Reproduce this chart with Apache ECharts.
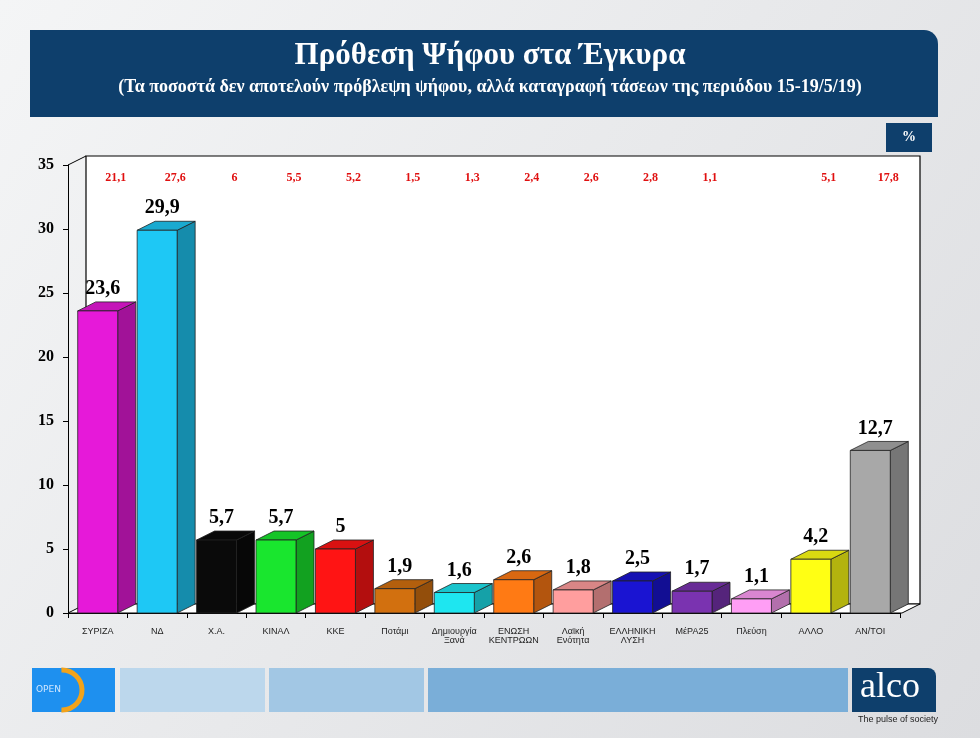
<!DOCTYPE html>
<html><head><meta charset="utf-8">
<script src="https://cdn.jsdelivr.net/npm/echarts@6/dist/echarts.min.js"></script>
<style>html,body{margin:0;padding:0;background:#e9eaec}#c{width:980px;height:738px}</style>
</head><body><div id="c"></div>
<script>
var parties = ['ΣΥΡΙΖΑ', 'ΝΔ', 'Χ.Α.', 'ΚΙΝΑΛ', 'ΚΚΕ', 'Ποτάμι', 'Δημιουργία\nΞανά', 'ΕΝΩΣΗ\nΚΕΝΤΡΩΩΝ', 'Λαϊκή\nΕνότητα', 'ΕΛΛΗΝΙΚΗ\nΛΥΣΗ', 'ΜέΡΑ25', 'Πλεύση', 'ΑΛΛΟ', 'ΑΝ/ΤΟΙ'];
var current = [23.6, 29.9, 5.7, 5.7, 5, 1.9, 1.6, 2.6, 1.8, 2.5, 1.7, 1.1, 4.2, 12.7];
var previous = [21.1, 27.6, 6, 5.5, 5.2, 1.5, 1.3, 2.4, 2.6, 2.8, 1.1, null, 5.1, 17.8];
var barColors = ['#e619d9', '#1ec8f5', '#0a0a0a', '#19e62e', '#ff1414', '#d2700f', '#1ee6f0', '#ff7a14', '#ff9e9e', '#1a14d2', '#7a33b0', '#ff9ef5', '#ffff14', '#a8a8a8'];
var yTicks = [0, 5, 10, 15, 20, 25, 30, 35];

function shade(hex, f) {
    var c = echarts.color.parse(hex);
    return 'rgb(' + Math.round(c[0] * f) + ',' + Math.round(c[1] * f) + ',' + Math.round(c[2] * f) + ')';
}
var DX = 18, DY = -9;

var chart = echarts.init(document.getElementById('c'));
chart.setOption({
    backgroundColor: new echarts.graphic.LinearGradient(0, 0, 1, 1, [{offset: 0, color: '#f4f5f6'}, {offset: 1, color: '#dcdde0'}]),
    animation: false,
    graphic: [
        // header
        {type: 'rect', shape: {x: 30, y: 30, width: 908, height: 87, r: [0, 14, 0, 0]}, style: {fill: '#0e3f6c'}},
        {type: 'text', left: 'center', top: 40, style: {text: 'Πρόθεση Ψήφου στα Έγκυρα', fill: '#fff', font: 'bold 31px "Liberation Serif", serif'}},
        {type: 'text', left: 'center', top: 78, style: {text: '(Τα ποσοστά δεν αποτελούν πρόβλεψη ψήφου, αλλά καταγραφή τάσεων της περιόδου 15-19/5/19)', fill: '#fff', font: 'bold 18px "Liberation Serif", serif'}},
        {type: 'rect', shape: {x: 886, y: 123, width: 46, height: 29}, style: {fill: '#0e3f6c'}},
        {type: 'text', x: 902, y: 130, style: {text: '%', fill: '#fff', font: 'bold 14px "Liberation Serif", serif'}},
        // plot walls
        {type: 'rect', z: -10, shape: {x: 86, y: 156, width: 834, height: 448}, style: {fill: '#fff', stroke: '#000', lineWidth: 1.2}},
        {type: 'polygon', z: -10, shape: {points: [[68, 613], [86, 604], [920, 604], [902, 613]]}, style: {fill: '#fff', stroke: '#000', lineWidth: 1}},
        {type: 'line', z: -10, shape: {x1: 68, y1: 165, x2: 86, y2: 156}, style: {stroke: '#000'}},
        // footer
        {type: 'rect', shape: {x: 32, y: 668, width: 83, height: 44}, style: {fill: '#1e90ef'}},
        {type: 'arc', shape: {cx: 62, cy: 690, r: 20, startAngle: -1.6, endAngle: 1.6}, style: {fill: 'none', stroke: '#f2a31a', lineWidth: 5}},
        {type: 'text', x: 36, y: 685, style: {text: 'OPEN', fill: '#cfe6ff', font: '9px "DejaVu Sans"'}},
        {type: 'rect', shape: {x: 120, y: 668, width: 145, height: 44}, style: {fill: '#bcd7ec'}},
        {type: 'rect', shape: {x: 269, y: 668, width: 155, height: 44}, style: {fill: '#a2c7e4'}},
        {type: 'rect', shape: {x: 428, y: 668, width: 420, height: 44}, style: {fill: '#7aaed8'}},
        {type: 'rect', shape: {x: 852, y: 668, width: 84, height: 44, r: [0, 8, 0, 0]}, style: {fill: '#0e3f6c'}},
        {type: 'text', x: 860, y: 670, style: {text: 'alco', fill: '#fff', font: '36px "Liberation Serif", serif'}},
        {type: 'text', x: 858, y: 715, style: {text: 'The pulse of society', fill: '#222', font: '9px "Liberation Sans"'}}
    ],
    grid: {left: 68, right: 80, top: 165, bottom: 125},
    xAxis: {
        type: 'category', data: parties,
        axisLine: {lineStyle: {color: '#000'}}, axisTick: {show: true, lineStyle: {color: '#000'}},
        axisLabel: {interval: 0, fontSize: 9, color: '#222', margin: 14, fontFamily: 'Liberation Sans'}
    },
    yAxis: {
        type: 'value', min: 0, max: 35, interval: 5,
        axisLine: {show: true, lineStyle: {color: '#000'}}, axisTick: {show: true, lineStyle: {color: '#000'}},
        splitLine: {show: false},
        axisLabel: {color: '#000', fontSize: 16, fontWeight: 'bold', fontFamily: 'Liberation Serif', margin: 14}
    },
    series: [{
        type: 'custom',
        data: current.map(function (v, i) { return [i, v]; }),
        renderItem: function (params, api) {
            var i = api.value(0), v = api.value(1);
            var top = api.coord([i, v]), base = api.coord([i, 0]);
            var w = 40, x0 = top[0] - w / 2, x1 = top[0] + w / 2;
            var col = barColors[i];
            return {type: 'group', children: [
                {type: 'polygon', shape: {points: [[x1, top[1]], [x1 + DX, top[1] + DY], [x1 + DX, base[1] + DY], [x1, base[1]]]}, style: {fill: shade(col, 0.7), stroke: '#222', lineWidth: 0.8}},
                {type: 'polygon', shape: {points: [[x0, top[1]], [x0 + DX, top[1] + DY], [x1 + DX, top[1] + DY], [x1, top[1]]]}, style: {fill: shade(col, 0.85), stroke: '#222', lineWidth: 0.8}},
                {type: 'rect', shape: {x: x0, y: top[1], width: w, height: base[1] - top[1]}, style: {fill: col, stroke: '#222', lineWidth: 0.8}},
                {type: 'text', x: top[0] + 5, y: top[1] - 12, style: {text: String(v).replace('.', ','), align: 'center', verticalAlign: 'bottom', fill: '#000', font: 'bold 20px "Liberation Serif", serif'}}
            ]};
        }
    }, {
        type: 'custom',
        data: previous.map(function (v, i) { return [i, v == null ? '' : v]; }),
        renderItem: function (params, api) {
            var i = api.value(0), v = previous[i];
            if (v == null) return null;
            var p = api.coord([i, 35]);
            return {type: 'text', x: p[0] + 18, y: p[1] + 7, style: {text: String(v).replace('.', ','), align: 'center', fill: '#e01010', font: 'bold 12px "Liberation Serif", serif'}};
        }
    }]
});
</script></body></html>
